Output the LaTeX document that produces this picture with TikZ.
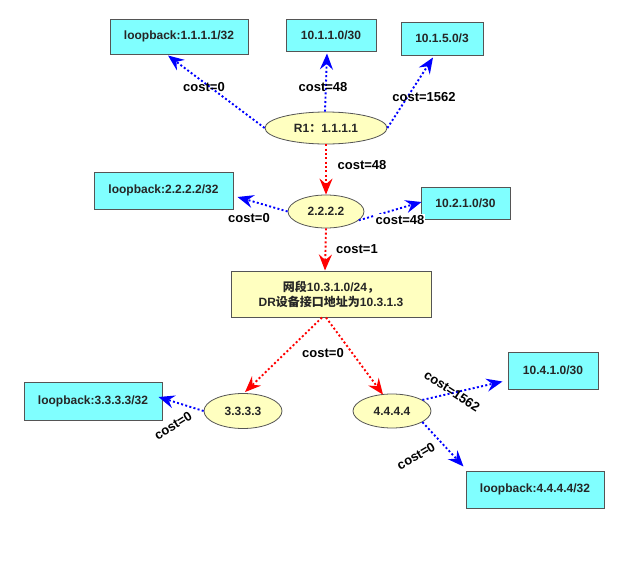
\documentclass[tikz,border=0pt]{standalone}
\usepackage{fontspec}
\setmainfont{Liberation Sans}
\newfontfamily\cjk{Noto Sans CJK SC}
\usetikzlibrary{arrows.meta,shapes.geometric,calc}
\definecolor{boxcyan}{HTML}{80FFFF}
\definecolor{nodeyel}{HTML}{FFFFC0}
\definecolor{edgegray}{HTML}{555555}
\definecolor{txtgray}{HTML}{262626}
\begin{document}
\begin{tikzpicture}[x=1pt,y=-1pt,
  every node/.style={font=\fontsize{12}{14}\selectfont\bfseries},
  netbox/.style={draw=edgegray,line width=1pt,fill=boxcyan,rectangle,inner sep=0pt,text=txtgray},
  router/.style={draw=edgegray,line width=0.8pt,fill=nodeyel,ellipse,inner sep=0pt,text=txtgray},
  drbox/.style={draw=edgegray,line width=1pt,fill=nodeyel,rectangle,inner sep=0pt,align=center,text=txtgray},
  lbl/.style={inner sep=1pt,text=black,font=\fontsize{13}{15}\selectfont\bfseries},
  link/.style={line width=1.9pt,dash pattern=on 2pt off 2.3pt,-{Stealth[length=16pt,width=13pt,inset=5.5pt]}},
  blink/.style={link,draw=blue,color=blue},
  rlink/.style={link,draw=red,color=red}]
\useasboundingbox (0,0) rectangle (633,562);
\fill[white] (0,0) rectangle (633,562);

% routers
\node[router,minimum width=122pt,minimum height=32pt] (r1) at (326,128) {R1{\cjk ：}1.1.1.1};
\node[router,minimum width=76pt,minimum height=33pt] (r2) at (326,211.5) {2.2.2.2};
\node[router,minimum width=78pt,minimum height=35pt] (r3) at (243,411) {3.3.3.3};
\node[router,minimum width=78pt,minimum height=34pt] (r4) at (392,411) {4.4.4.4};

% networks
\node[netbox,minimum width=138pt,minimum height=35pt] (lb1) at (179,36.5) {loopback:1.1.1.1/32};
\node[netbox,minimum width=90pt,minimum height=32pt] (n11) at (331,35) {10.1.1.0/30};
\node[netbox,minimum width=82pt,minimum height=33pt] (n15) at (442,38.5) {10.1.5.0/3};
\node[netbox,minimum width=139pt,minimum height=37pt] (lb2) at (163.5,190.5) {loopback:2.2.2.2/32};
\node[netbox,minimum width=89pt,minimum height=32pt] (n21) at (465.5,203) {10.2.1.0/30};
\node[drbox,minimum width=200pt,minimum height=46pt] (dr) at (331,294)
  {{\cjk 网段}10.3.1.0/24{\cjk ，}\\[1pt]DR{\cjk 设备接口地址为}10.3.1.3};
\node[netbox,minimum width=138pt,minimum height=38pt] (lb3) at (93,401) {loopback:3.3.3.3/32};
\node[netbox,minimum width=90pt,minimum height=37pt] (n41) at (553,370.5) {10.4.1.0/30};
\node[netbox,minimum width=138pt,minimum height=37pt] (lb4) at (535,489.5) {loopback:4.4.4.4/32};

% links
\draw[blink] (r1.west) -- ($(lb1.south)+(-11,1)$);
\draw[blink] ($(r1.north)+(-1,0)$) -- ($(n11.south)+(-4,2)$);
\draw[blink] (r1.east) -- ($(n15.south)+(-9,2)$);
\draw[rlink] (r1.south) -- (r2.north);
\draw[blink] (r2.west) -- ($(lb2.east)+(4,6.5)$);
\draw[blink] (r2.-15) -- ($(n21.west)+(1,-1)$);
\draw[rlink] (r2.south) -- ($(dr.north)+(-6,0)$);
\draw[rlink] ($(dr.south)+(-9,0)$) -- ($(r3.north)+(2,-1)$);
\draw[rlink] ($(dr.south)+(-5,0)$) -- ($(r4.north)+(-9,1)$);
\draw[blink] (r3.west) -- ($(lb3.east)+(-4,-4)$);
\draw[blink] (r4.20) -- ($(n41.south west)+(-5,-8)$);
\draw[blink] (r4.-20) -- ($(lb4.north west)+(-2,-4)$);

% labels
\node[lbl] (c1) at (204,87) {cost=0};
\node[lbl] (c2) at (323,87) {cost=48};
\node[lbl] (c3) at (424,97) {cost=1562};
\node[lbl] (c4) at (362,165) {cost=48};
\node[lbl] (c5) at (249,218) {cost=0};
\node[lbl,fill=white] (c6) at (400,220) {cost=48};
\node[lbl] (c7) at (357,249) {cost=1};
\node[lbl] (c8) at (323,353) {cost=0};
\node[lbl,rotate=32] (c9) at (173,426) {cost=0};
\node[lbl,rotate=-33] (c10) at (452,391) {cost=1562};
\node[lbl,rotate=30] (c11) at (416,456) {cost=0};
\end{tikzpicture}
\end{document}
